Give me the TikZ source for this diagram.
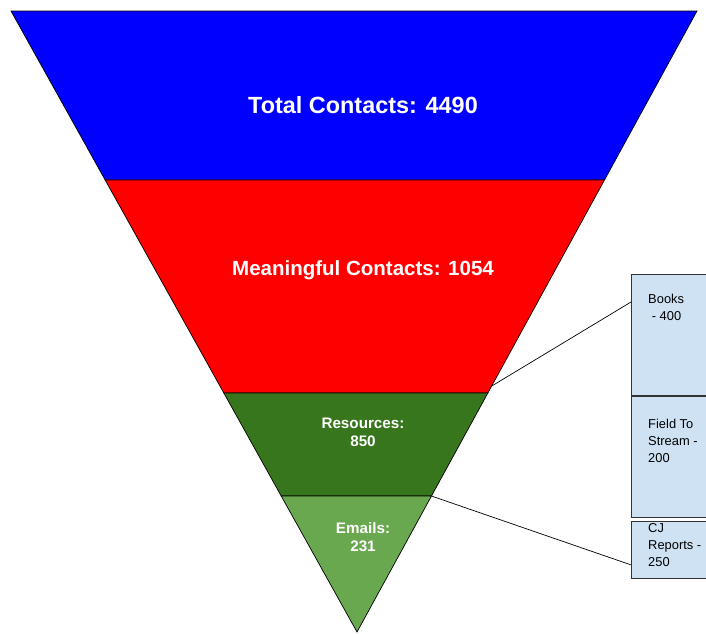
\documentclass[tikz,border=0pt]{standalone}
\usepackage{fontspec}
\setmainfont{Liberation Sans}
\usepackage{tikz}
\usetikzlibrary{calc,positioning}
\definecolor{funnelblue}{HTML}{0000FF}
\definecolor{funnelred}{HTML}{FF0000}
\definecolor{darkgreen}{HTML}{38761D}
\definecolor{lightgreen}{HTML}{6AA84F}
\definecolor{boxblue}{HTML}{CFE2F3}

\begin{document}
\begin{tikzpicture}[x=0.03cm,y=-0.03cm,
		band/.style={draw=black,line width=0.6pt},
		bandtext/.style={text=white,font=\bfseries,align=center,inner sep=0pt},
		panel/.style={draw=black!80,fill=boxblue,line width=0.8pt,minimum width=3cm,inner sep=0pt},
		paneltext/.style={anchor=north west,align=left,inner sep=0pt,font=\fontsize{11}{14.5}\selectfont}]
			\useasboundingbox (0,0) rectangle (706,633);
			\clip (0,0) rectangle (706,633);
			% funnel corners
			\coordinate (tl) at (11,11);
			\coordinate (tr) at (697,11);
			\coordinate (tip) at (357,632);
			\coordinate (l1) at ($(tl)!0.272!(tip)$);
			\coordinate (r1) at ($(tr)!0.272!(tip)$);
			\coordinate (l2) at ($(tl)!0.615!(tip)$);
			\coordinate (r2) at ($(tr)!0.615!(tip)$);
			\coordinate (l3) at ($(tl)!0.781!(tip)$);
			\coordinate (r3) at ($(tr)!0.781!(tip)$);
			
			\draw[band,fill=funnelblue] (tl) -- (tr) -- (r1) -- (l1) -- cycle;
			\draw[band,fill=funnelred] (l1) -- (r1) -- (r2) -- (l2) -- cycle;
			\draw[band,fill=darkgreen] (l2) -- (r2) -- (r3) -- (l3) -- cycle;
			\draw[band,fill=lightgreen] (l3) -- (r3) -- (tip) -- cycle;
			
			\node[bandtext,font=\bfseries\fontsize{20}{24}\selectfont] (total) at (363,105) {Total Contacts: 4490};
			\node[bandtext,font=\bfseries\fontsize{17.5}{21}\selectfont] (meaningful) at (363,270) {Meaningful Contacts: 1054};
			\node[bandtext,font=\bfseries\fontsize{13}{15.5}\selectfont] (resources) at (363,432) {Resources:\\850};
			\node[bandtext,font=\bfseries\fontsize{13}{15.5}\selectfont] (emails) at (363,537) {Emails:\\231};
			
			% breakdown boxes
			\node[panel,minimum height=3.63cm,anchor=north west] (books) at (631,274) {};
			\node[panel,minimum height=3.63cm,below=0pt of books] (stream) {};
			\node[panel,minimum height=1.71cm,below=0.09cm of stream] (reports) {};
			\node[paneltext] (bookstext) at ($(books.north west)+(17,20)$) {Books\\ \ - 400};
			\node[paneltext] (streamtext) at ($(stream.north west)+(17,23)$) {Field To\\Stream -\\200};
			\node[paneltext] (reportstext) at ($(reports.north west)+(17,2)$) {CJ\\Reports -\\250};
			
			\coordinate (from1) at ($(tr)!0.604!(tip)$);
			\coordinate (to1) at ($(books.north west)+(0,28)$);
			\coordinate (to3) at ($(reports.north west)+(0,44)$);
			\draw[line width=0.6pt] (from1) -- (to1);
			\draw[line width=0.6pt] (r3) -- (to3);
\end{tikzpicture}
\end{document}
